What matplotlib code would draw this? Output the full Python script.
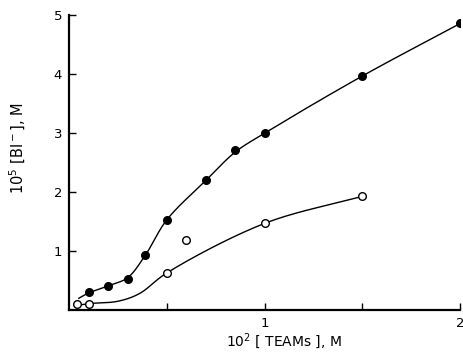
import numpy as np
import matplotlib
matplotlib.use("Agg")
import matplotlib.pyplot as plt

# filled circles
x_filled = [0.10, 0.20, 0.30, 0.39, 0.50, 0.70, 0.85, 1.00, 1.50, 2.00]
y_filled = [0.31, 0.41, 0.53, 0.93, 1.53, 2.20, 2.71, 3.00, 3.97, 4.86]

# open circles
x_open = [0.04, 0.10, 0.50, 0.60, 1.00, 1.50]
y_open = [0.10, 0.10, 0.63, 1.19, 1.47, 1.93]

# hand-drawn fit curves (knots)
fit_filled_x = [0.05, 0.10, 0.20, 0.30, 0.39, 0.50, 0.70, 0.85, 1.00, 1.50, 2.00]
fit_filled_y = [0.20, 0.29, 0.41, 0.55, 0.93, 1.53, 2.20, 2.68, 3.00, 3.97, 4.86]
fit_open_x = [0.04, 0.10, 0.25, 0.36, 0.50, 1.00, 1.50]
fit_open_y = [0.08, 0.11, 0.15, 0.28, 0.63, 1.47, 1.93]

x_ticks = [0.5, 1.0, 1.5, 2.0]
x_ticklabels = ["", "1", "", "2"]
y_ticks = [1, 2, 3, 4, 5]


def smooth(xs, ys, n=40, sx=195.0, sy=59.0):
    # centripetal Catmull-Rom through the knots (in pixel-like units)
    p = np.column_stack([np.array(xs) * sx, np.array(ys) * sy])
    p = np.vstack([2 * p[0] - p[1], p, 2 * p[-1] - p[-2]])
    out = []
    for i in range(1, len(p) - 2):
        P0, P1, P2, P3 = p[i - 1], p[i], p[i + 1], p[i + 2]
        t0 = 0.0
        t1 = t0 + np.linalg.norm(P1 - P0) ** 0.5
        t2 = t1 + np.linalg.norm(P2 - P1) ** 0.5
        t3 = t2 + np.linalg.norm(P3 - P2) ** 0.5
        t = np.linspace(t1, t2, n)[:, None]
        A1 = (t1 - t) / (t1 - t0) * P0 + (t - t0) / (t1 - t0) * P1
        A2 = (t2 - t) / (t2 - t1) * P1 + (t - t1) / (t2 - t1) * P2
        A3 = (t3 - t) / (t3 - t2) * P2 + (t - t2) / (t3 - t2) * P3
        B1 = (t2 - t) / (t2 - t0) * A1 + (t - t0) / (t2 - t0) * A2
        B2 = (t3 - t) / (t3 - t1) * A2 + (t - t1) / (t3 - t1) * A3
        C = (t2 - t) / (t2 - t1) * B1 + (t - t1) / (t2 - t1) * B2
        out.append(C)
    out = np.vstack(out)
    return out[:, 0] / sx, out[:, 1] / sy


fig = plt.figure(figsize=(4.63, 3.54), dpi=100)
ax = fig.add_axes([0.149, 0.124, 0.845, 0.833])

cx, cy = smooth(fit_filled_x, fit_filled_y)
ax.plot(cx, cy, color="black", lw=1.0)
cx, cy = smooth(fit_open_x, fit_open_y)
ax.plot(cx, cy, color="black", lw=1.0)

ax.plot(x_filled, y_filled, "o", color="black", ms=5.5, zorder=3)
ax.plot(x_open, y_open, "o", mfc="white", mec="black", mew=1.0, ms=5.5, zorder=3)

ax.set_xlim(0, 2.0)
ax.set_ylim(0, 5)
for s in ["top", "right"]:
    ax.spines[s].set_visible(False)
ax.spines["left"].set_linewidth(1.6)
ax.spines["bottom"].set_linewidth(1.6)

ax.set_xticks(x_ticks)
ax.set_xticklabels(x_ticklabels)
ax.set_yticks(y_ticks)
ax.tick_params(direction="in", length=5, width=1, labelsize=9.5, pad=5)

ax.set_xlabel(r"$10^2$ [ TEAMs ], M", fontsize=10, labelpad=2)
ax.xaxis.set_label_coords(0.55, -0.07)
ax.set_ylabel(r"$10^5$ [BI$^-$], M", fontsize=10.5, labelpad=14)
ax.yaxis.set_label_coords(-0.105, 0.55)

fig.savefig("out.png", dpi=100)
